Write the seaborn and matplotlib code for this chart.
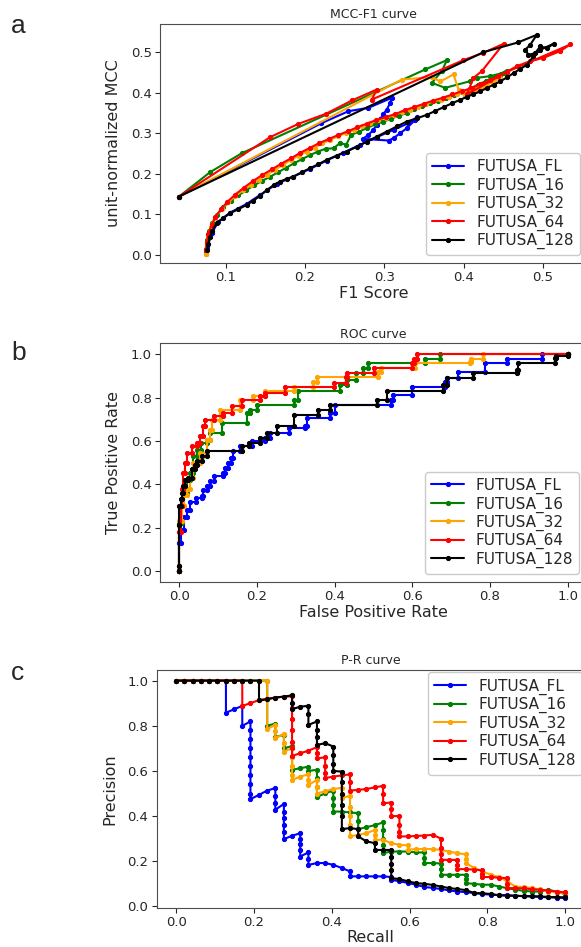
import matplotlib
matplotlib.use("Agg")
import matplotlib.pyplot as plt
import seaborn as sns

# Series names and colours
names = ["FUTUSA_FL", "FUTUSA_16", "FUTUSA_32", "FUTUSA_64", "FUTUSA_128"]
colors = ["blue", "green", "orange", "red", "black"]

# MCC-F1 curves (F1 score, unit-normalized MCC)
mcc_fl_x = [0.041, 0.2207, 0.2548, 0.2800, 0.3095, 0.3074, 0.3032, 0.2989, 0.2947, 0.2905, 0.2863, 0.2800, 0.2729,
            0.3053, 0.3116, 0.3200, 0.3284, 0.3389, 0.3410, 0.3305, 0.3116, 0.2905, 0.2695, 0.2485, 0.2274, 0.2064,
            0.1854, 0.1644, 0.1433, 0.1265, 0.1055, 0.0907, 0.0823, 0.0769, 0.0752]
mcc_fl_y = [0.144, 0.3251, 0.3547, 0.3630, 0.3877, 0.3753, 0.3588, 0.3481, 0.3342, 0.3218, 0.3086, 0.2963, 0.2864,
            0.2823, 0.2881, 0.3004, 0.3128, 0.3333, 0.3399, 0.3251, 0.3086, 0.2905, 0.2716, 0.2527, 0.2329, 0.2123,
            0.1934, 0.1753, 0.1481, 0.1259, 0.1045, 0.0823, 0.0535, 0.0206, 0.0082]

mcc_16_x = [0.041, 0.0802, 0.1202, 0.3515, 0.3789, 0.3726, 0.3599, 0.3768, 0.4083, 0.4167, 0.4335, 0.4504, 0.4546,
            0.447, 0.438, 0.428, 0.418, 0.408, 0.398, 0.388, 0.378, 0.368, 0.358, 0.348, 0.338, 0.328, 0.318, 0.308,
            0.298, 0.288, 0.278, 0.268, 0.258, 0.252, 0.244, 0.236, 0.226, 0.216, 0.206, 0.196, 0.186, 0.176, 0.166,
            0.156, 0.146, 0.136, 0.126, 0.116, 0.106, 0.097, 0.089, 0.083, 0.079, 0.076, 0.075, 0.075]
mcc_16_y = [0.144, 0.2041, 0.2510, 0.4576, 0.4807, 0.4535, 0.4247, 0.4123, 0.4288, 0.4370, 0.4412, 0.4494, 0.4551,
            0.447, 0.438, 0.429, 0.420, 0.410, 0.401, 0.394, 0.388, 0.381, 0.374, 0.367, 0.360, 0.350, 0.343, 0.336,
            0.328, 0.322, 0.313, 0.304, 0.296, 0.272, 0.276, 0.263, 0.262, 0.255, 0.246, 0.236, 0.226, 0.215, 0.204,
            0.193, 0.183, 0.172, 0.160, 0.147, 0.134, 0.117, 0.099, 0.079, 0.058, 0.036, 0.015, 0.002]

mcc_32_x = [0.041, 0.3221, 0.3599, 0.3705, 0.3873, 0.3936, 0.4020, 0.415, 0.425, 0.436, 0.446, 0.438, 0.430, 0.421,
            0.412, 0.402, 0.392, 0.382, 0.372, 0.362, 0.352, 0.342, 0.332, 0.322, 0.312, 0.302, 0.292, 0.282, 0.272,
            0.262, 0.252, 0.242, 0.232, 0.222, 0.212, 0.202, 0.192, 0.182, 0.172, 0.162, 0.152, 0.142, 0.132, 0.122,
            0.112, 0.103, 0.095, 0.086, 0.081, 0.078, 0.076, 0.075, 0.075]
mcc_32_y = [0.144, 0.4329, 0.4387, 0.4280, 0.4453, 0.4082, 0.3918, 0.404, 0.414, 0.427, 0.436, 0.430, 0.424, 0.417,
            0.410, 0.402, 0.396, 0.390, 0.383, 0.379, 0.372, 0.366, 0.358, 0.352, 0.345, 0.338, 0.332, 0.325, 0.317,
            0.309, 0.301, 0.293, 0.284, 0.275, 0.265, 0.255, 0.245, 0.234, 0.222, 0.210, 0.198, 0.186, 0.173, 0.160,
            0.145, 0.130, 0.114, 0.092, 0.070, 0.050, 0.030, 0.012, 0.003]

mcc_64_x = [0.041, 0.1559, 0.1917, 0.2262, 0.2590, 0.2905, 0.2842, 0.3999, 0.4251, 0.4504, 0.4230, 0.4125, 0.4041,
            0.4672, 0.4840, 0.5008, 0.5219, 0.5345, 0.455, 0.444, 0.433, 0.421, 0.410, 0.398, 0.386, 0.374, 0.362,
            0.350, 0.338, 0.326, 0.314, 0.302, 0.290, 0.278, 0.266, 0.254, 0.242, 0.230, 0.218, 0.206, 0.194, 0.182,
            0.170, 0.158, 0.146, 0.134, 0.123, 0.112, 0.102, 0.094, 0.087, 0.082, 0.078, 0.076, 0.075]
mcc_64_y = [0.144, 0.2905, 0.3235, 0.3481, 0.3811, 0.4082, 0.3835, 0.4807, 0.4988, 0.5210, 0.4535, 0.4370, 0.3959,
            0.4658, 0.4782, 0.4864, 0.5029, 0.5193, 0.452, 0.442, 0.431, 0.421, 0.412, 0.404, 0.396, 0.388, 0.381,
            0.373, 0.365, 0.357, 0.348, 0.340, 0.333, 0.324, 0.315, 0.305, 0.296, 0.286, 0.276, 0.264, 0.252, 0.238,
            0.225, 0.211, 0.197, 0.182, 0.166, 0.149, 0.131, 0.113, 0.094, 0.073, 0.052, 0.031, 0.012]

mcc_128_x = [0.041, 0.4251, 0.4685, 0.4924, 0.4840, 0.4777, 0.4819, 0.4903, 0.4966, 0.5050, 0.5135, 0.4966, 0.4882,
             0.4798, 0.4714, 0.4630, 0.4546, 0.4462, 0.4378, 0.4294, 0.4209, 0.4125, 0.4041, 0.3957, 0.3852, 0.3747,
             0.3641, 0.3536, 0.3410, 0.3284, 0.3158, 0.3032, 0.2906, 0.2779, 0.2653, 0.2527, 0.2401, 0.2274, 0.2169,
             0.2064, 0.1959, 0.1854, 0.1770, 0.1686, 0.1602, 0.1517, 0.1433, 0.1349, 0.1265, 0.1160, 0.1055, 0.0970,
             0.0886, 0.0830, 0.0802, 0.0780, 0.0760]
mcc_128_y = [0.144, 0.5004, 0.5243, 0.5432, 0.5185, 0.5062, 0.4938, 0.4979, 0.5144, 0.5103, 0.5210, 0.5060, 0.4897,
             0.4691, 0.4590, 0.4486, 0.4380, 0.4280, 0.4200, 0.4120, 0.4033, 0.3970, 0.3900, 0.3827, 0.3740, 0.3646,
             0.3550, 0.3457, 0.3370, 0.3292, 0.3170, 0.3045, 0.2920, 0.2798, 0.2670, 0.2551, 0.2450, 0.2346, 0.2240,
             0.2140, 0.2040, 0.1934, 0.1880, 0.1811, 0.1720, 0.1600, 0.1457, 0.1340, 0.1235, 0.1130, 0.1029, 0.0910,
             0.0782, 0.0600, 0.0453, 0.0280, 0.0123]

# ROC curves: (FPR, TPR reached at that FPR)
roc_fl = [(0.0, 0.13), (0.003, 0.19), (0.012, 0.25), (0.019, 0.28), (0.027, 0.32), (0.043, 0.335), (0.057, 0.345),
          (0.062, 0.375), (0.072, 0.39), (0.079, 0.415), (0.088, 0.437), (0.113, 0.452), (0.118, 0.475),
          (0.126, 0.498), (0.132, 0.521), (0.137, 0.552), (0.156, 0.575), (0.186, 0.598), (0.22, 0.613),
          (0.233, 0.636), (0.281, 0.66), (0.324, 0.667), (0.328, 0.706), (0.388, 0.729), (0.401, 0.767),
          (0.545, 0.79), (0.551, 0.813), (0.598, 0.851), (0.685, 0.874), (0.69, 0.89), (0.718, 0.92),
          (0.787, 0.958), (0.843, 0.98), (0.933, 1.0), (1.0, 1.0)]
roc_16 = [(0.0, 0.22), (0.006, 0.30), (0.012, 0.36), (0.019, 0.42), (0.027, 0.45), (0.036, 0.53), (0.045, 0.56),
          (0.055, 0.59), (0.07, 0.606), (0.079, 0.636), (0.109, 0.683), (0.173, 0.729), (0.182, 0.744),
          (0.199, 0.767), (0.294, 0.79), (0.306, 0.828), (0.414, 0.859), (0.431, 0.882), (0.456, 0.913),
          (0.474, 0.936), (0.487, 0.958), (0.633, 0.977), (0.671, 1.0), (1.0, 1.0)]
roc_32 = [(0.0, 0.23), (0.006, 0.30), (0.012, 0.35), (0.019, 0.376), (0.027, 0.43), (0.036, 0.498), (0.053, 0.544),
          (0.07, 0.606), (0.079, 0.652), (0.083, 0.698), (0.105, 0.744), (0.156, 0.79), (0.19, 0.805),
          (0.221, 0.828), (0.294, 0.851), (0.345, 0.874), (0.354, 0.897), (0.512, 0.92), (0.52, 0.936),
          (0.607, 0.958), (0.749, 0.966), (0.752, 0.98), (0.783, 1.0), (1.0, 1.0)]
roc_64 = [(0.0, 0.18), (0.003, 0.30), (0.006, 0.38), (0.01, 0.452), (0.015, 0.50), (0.019, 0.544), (0.032, 0.575),
          (0.045, 0.59), (0.053, 0.621), (0.062, 0.667), (0.066, 0.698), (0.09, 0.713), (0.113, 0.729),
          (0.135, 0.759), (0.161, 0.79), (0.208, 0.805), (0.22, 0.82), (0.272, 0.851), (0.397, 0.866),
          (0.428, 0.897), (0.431, 0.912), (0.5, 0.935), (0.598, 0.958), (0.605, 0.977), (0.611, 1.0), (1.0, 1.0)]
roc_128 = [(0.0, 0.023), (0.0, 0.21), (0.0, 0.30), (0.003, 0.33), (0.006, 0.36), (0.01, 0.39), (0.015, 0.42),
           (0.022, 0.43), (0.032, 0.468), (0.04, 0.49), (0.045, 0.506), (0.058, 0.529), (0.07, 0.552), (0.16, 0.575),
           (0.178, 0.59), (0.208, 0.613), (0.225, 0.636), (0.251, 0.667), (0.294, 0.721), (0.358, 0.744),
           (0.388, 0.767), (0.508, 0.79), (0.534, 0.828), (0.68, 0.859), (0.688, 0.89), (0.757, 0.913),
           (0.869, 0.928), (0.873, 0.958), (0.967, 0.982), (0.97, 0.99), (1.0, 1.0)]

# P-R curves: (recall, precision)
pr_fl = [(0.0, 1.0), (0.021, 1.0), (0.043, 1.0), (0.064, 1.0), (0.085, 1.0), (0.106, 1.0), (0.128, 1.0),
         (0.128, 0.858), (0.149, 0.873), (0.170, 0.888), (0.170, 0.800), (0.191, 0.819), (0.191, 0.780),
         (0.191, 0.740), (0.191, 0.700), (0.191, 0.660), (0.191, 0.620), (0.191, 0.580), (0.191, 0.540),
         (0.191, 0.500), (0.191, 0.475), (0.213, 0.494), (0.234, 0.513), (0.255, 0.524), (0.255, 0.490),
         (0.255, 0.460), (0.255, 0.428), (0.277, 0.454), (0.277, 0.420), (0.277, 0.390), (0.277, 0.360),
         (0.277, 0.330), (0.277, 0.298), (0.298, 0.313), (0.319, 0.324), (0.319, 0.300), (0.319, 0.275),
         (0.319, 0.250), (0.319, 0.221), (0.340, 0.239), (0.340, 0.210), (0.340, 0.184), (0.362, 0.192),
         (0.383, 0.192), (0.404, 0.184), (0.426, 0.170), (0.447, 0.155), (0.447, 0.133), (0.468, 0.133),
         (0.489, 0.133), (0.511, 0.133), (0.532, 0.133), (0.553, 0.130), (0.553, 0.118), (0.574, 0.111),
         (0.596, 0.104), (0.617, 0.096), (0.638, 0.086), (0.660, 0.082), (0.681, 0.077), (0.702, 0.071),
         (0.723, 0.066), (0.745, 0.063), (0.766, 0.059), (0.787, 0.055), (0.809, 0.052), (0.830, 0.050),
         (0.851, 0.049), (0.872, 0.047), (0.894, 0.045), (0.915, 0.044), (0.936, 0.042), (0.957, 0.040),
         (0.979, 0.039), (1.0, 0.037)]
pr_16 = [(0.0, 1.0), (0.021, 1.0), (0.043, 1.0), (0.064, 1.0), (0.085, 1.0), (0.106, 1.0), (0.128, 1.0),
         (0.149, 1.0), (0.170, 1.0), (0.191, 1.0), (0.213, 1.0), (0.234, 1.0), (0.234, 0.800), (0.255, 0.810),
         (0.255, 0.750), (0.277, 0.760), (0.277, 0.700), (0.298, 0.710), (0.298, 0.660), (0.298, 0.605),
         (0.319, 0.612), (0.340, 0.619), (0.340, 0.600), (0.362, 0.605), (0.362, 0.570), (0.362, 0.530),
         (0.362, 0.484), (0.383, 0.501), (0.404, 0.513), (0.404, 0.480), (0.404, 0.450), (0.404, 0.420),
         (0.426, 0.420), (0.447, 0.416), (0.468, 0.413), (0.468, 0.380), (0.468, 0.342), (0.489, 0.351),
         (0.511, 0.360), (0.532, 0.372), (0.532, 0.340), (0.532, 0.300), (0.532, 0.270), (0.532, 0.236),
         (0.553, 0.243), (0.574, 0.243), (0.596, 0.243), (0.617, 0.239), (0.638, 0.239), (0.638, 0.215),
         (0.638, 0.192), (0.660, 0.192), (0.681, 0.190), (0.681, 0.165), (0.681, 0.140), (0.702, 0.140),
         (0.723, 0.140), (0.745, 0.140), (0.745, 0.120), (0.745, 0.103), (0.766, 0.100), (0.787, 0.096),
         (0.809, 0.096), (0.830, 0.088), (0.851, 0.081), (0.872, 0.074), (0.894, 0.069), (0.915, 0.066),
         (0.936, 0.066), (0.957, 0.074), (0.979, 0.064), (1.0, 0.055)]
pr_32 = [(0.0, 1.0), (0.021, 1.0), (0.043, 1.0), (0.064, 1.0), (0.085, 1.0), (0.106, 1.0), (0.128, 1.0),
         (0.149, 1.0), (0.170, 1.0), (0.191, 1.0), (0.213, 1.0), (0.234, 1.0), (0.234, 0.785), (0.255, 0.804),
         (0.255, 0.775), (0.255, 0.745), (0.277, 0.764), (0.277, 0.725), (0.277, 0.686), (0.298, 0.700),
         (0.298, 0.660), (0.298, 0.620), (0.298, 0.580), (0.298, 0.560), (0.319, 0.575), (0.340, 0.585),
         (0.340, 0.560), (0.340, 0.538), (0.362, 0.560), (0.362, 0.530), (0.362, 0.500), (0.383, 0.510),
         (0.404, 0.520), (0.426, 0.525), (0.426, 0.480), (0.447, 0.490), (0.447, 0.440), (0.447, 0.400),
         (0.447, 0.360), (0.447, 0.310), (0.468, 0.317), (0.489, 0.324), (0.511, 0.339), (0.511, 0.317),
         (0.511, 0.295), (0.532, 0.295), (0.553, 0.280), (0.574, 0.273), (0.596, 0.270), (0.596, 0.251),
         (0.617, 0.254), (0.638, 0.254), (0.660, 0.254), (0.681, 0.250), (0.702, 0.243), (0.723, 0.236),
         (0.745, 0.230), (0.745, 0.210), (0.745, 0.192), (0.766, 0.170), (0.787, 0.155), (0.809, 0.140),
         (0.830, 0.130), (0.851, 0.111), (0.872, 0.088), (0.894, 0.086), (0.915, 0.081), (0.936, 0.075),
         (0.957, 0.066), (0.979, 0.062), (1.0, 0.059)]
pr_64 = [(0.0, 1.0), (0.021, 1.0), (0.043, 1.0), (0.064, 1.0), (0.085, 1.0), (0.106, 1.0), (0.128, 1.0),
         (0.149, 1.0), (0.170, 1.0), (0.170, 0.888), (0.191, 0.900), (0.213, 0.914), (0.234, 0.920),
         (0.255, 0.925), (0.277, 0.929), (0.298, 0.930), (0.298, 0.880), (0.298, 0.830), (0.298, 0.780),
         (0.298, 0.730), (0.298, 0.700), (0.298, 0.667), (0.319, 0.678), (0.340, 0.690), (0.362, 0.705),
         (0.362, 0.680), (0.362, 0.656), (0.383, 0.660), (0.383, 0.620), (0.383, 0.590), (0.383, 0.568),
         (0.404, 0.575), (0.426, 0.580), (0.447, 0.585), (0.447, 0.550), (0.447, 0.513), (0.468, 0.516),
         (0.489, 0.520), (0.511, 0.527), (0.532, 0.534), (0.532, 0.500), (0.532, 0.457), (0.553, 0.460),
         (0.553, 0.430), (0.553, 0.400), (0.574, 0.400), (0.574, 0.360), (0.574, 0.330), (0.574, 0.310),
         (0.596, 0.310), (0.617, 0.312), (0.638, 0.314), (0.660, 0.317), (0.681, 0.300), (0.681, 0.260),
         (0.681, 0.230), (0.681, 0.206), (0.702, 0.206), (0.723, 0.206), (0.723, 0.185), (0.723, 0.165),
         (0.745, 0.165), (0.766, 0.163), (0.787, 0.160), (0.787, 0.145), (0.787, 0.130), (0.809, 0.130),
         (0.830, 0.127), (0.851, 0.125), (0.851, 0.100), (0.851, 0.081), (0.872, 0.081), (0.894, 0.080),
         (0.915, 0.076), (0.936, 0.074), (0.957, 0.070), (0.979, 0.066), (1.0, 0.062)]
pr_128 = [(0.0, 1.0), (0.021, 1.0), (0.043, 1.0), (0.064, 1.0), (0.085, 1.0), (0.106, 1.0), (0.128, 1.0),
          (0.149, 1.0), (0.170, 1.0), (0.191, 1.0), (0.213, 1.0), (0.213, 0.912), (0.234, 0.917), (0.255, 0.925),
          (0.277, 0.929), (0.298, 0.935), (0.298, 0.900), (0.298, 0.873), (0.319, 0.885), (0.340, 0.888),
          (0.340, 0.850), (0.340, 0.804), (0.362, 0.819), (0.362, 0.780), (0.362, 0.750), (0.362, 0.715),
          (0.383, 0.723), (0.404, 0.708), (0.404, 0.670), (0.404, 0.630), (0.404, 0.600), (0.426, 0.597),
          (0.426, 0.550), (0.426, 0.500), (0.426, 0.450), (0.426, 0.400), (0.426, 0.342), (0.447, 0.347),
          (0.468, 0.342), (0.468, 0.310), (0.489, 0.288), (0.511, 0.280), (0.511, 0.250), (0.532, 0.250),
          (0.553, 0.250), (0.553, 0.220), (0.553, 0.190), (0.553, 0.160), (0.553, 0.125), (0.574, 0.121),
          (0.596, 0.111), (0.617, 0.103), (0.638, 0.100), (0.660, 0.095), (0.681, 0.088), (0.702, 0.081),
          (0.723, 0.077), (0.745, 0.072), (0.766, 0.059), (0.787, 0.058), (0.809, 0.055), (0.830, 0.049),
          (0.851, 0.048), (0.872, 0.047), (0.894, 0.046), (0.915, 0.045), (0.936, 0.044), (0.957, 0.042),
          (0.979, 0.041), (1.0, 0.040)]

mcc_curves = [(mcc_fl_x, mcc_fl_y), (mcc_16_x, mcc_16_y), (mcc_32_x, mcc_32_y),
              (mcc_64_x, mcc_64_y), (mcc_128_x, mcc_128_y)]
roc_curves = [roc_fl, roc_16, roc_32, roc_64, roc_128]
pr_curves = [pr_fl, pr_16, pr_32, pr_64, pr_128]


def roc_corners(steps):
    # turn (fpr, tpr) steps into the corner points of the ROC staircase
    xs, ys = [0.0], [0.0]
    prev = 0.0
    for f, t in steps:
        xs += [f, f]
        ys += [prev, t]
        prev = t
    return xs, ys


def draw(ax, xs, ys, color, name):
    sns.lineplot(x=xs, y=ys, sort=False, estimator=None, color=color, marker=".",
                 markersize=6, markeredgecolor=color, linewidth=1.5, label=name, ax=ax)


def add_legend(ax, loc, pad=0.5):
    ax.legend(loc=loc, fontsize=11, labelspacing=0.15, handlelength=2.1,
              borderaxespad=pad, edgecolor="0.75")


sns.set_style("ticks", {"axes.edgecolor": "0.3", "xtick.color": "0.15", "ytick.color": "0.15"})
plt.rcParams["font.family"] = ["DejaVu Sans"]

fig = plt.figure(figsize=(5.81, 9.47), dpi=100)
ax_a = fig.add_axes([0.2754, 0.7223, 0.736, 0.2524])
ax_b = fig.add_axes([0.2754, 0.3857, 0.735, 0.2517])
ax_c = fig.add_axes([0.2697, 0.0412, 0.7365, 0.2513])

# a: MCC-F1
for (xs, ys), c, n in zip(mcc_curves, colors, names):
    draw(ax_a, xs, ys, c, n)
ax_a.set_xlim(0.017, 0.5565)
ax_a.set_ylim(-0.02, 0.57)
ax_a.set_xticks([0.1, 0.2, 0.3, 0.4, 0.5])
ax_a.set_yticks([0.0, 0.1, 0.2, 0.3, 0.4, 0.5])
ax_a.set_title("MCC-F1 curve", fontsize=9, pad=4)
ax_a.set_xlabel("F1 Score", fontsize=11.5, labelpad=1.5)
ax_a.set_ylabel("unit-normalized MCC", fontsize=11.5, labelpad=7)
add_legend(ax_a, "lower right")

# b: ROC
for steps, c, n in zip(roc_curves, colors, names):
    xs, ys = roc_corners(steps)
    draw(ax_b, xs, ys, c, n)
ax_b.set_xlim(-0.05, 1.05)
ax_b.set_ylim(-0.05, 1.05)
ax_b.set_xticks([0.0, 0.2, 0.4, 0.6, 0.8, 1.0])
ax_b.set_yticks([0.0, 0.2, 0.4, 0.6, 0.8, 1.0])
ax_b.set_title("ROC curve", fontsize=9, pad=4)
ax_b.set_xlabel("False Positive Rate", fontsize=11.5, labelpad=1.5)
ax_b.set_ylabel("True Positive Rate", fontsize=11.5, labelpad=7)
add_legend(ax_b, "lower right")

# c: P-R
for pts, c, n in zip(pr_curves, colors, names):
    draw(ax_c, [p[0] for p in pts], [p[1] for p in pts], c, n)
ax_c.set_xlim(-0.05, 1.05)
ax_c.set_ylim(-0.007, 1.047)
ax_c.set_xticks([0.0, 0.2, 0.4, 0.6, 0.8, 1.0])
ax_c.set_yticks([0.0, 0.2, 0.4, 0.6, 0.8, 1.0])
ax_c.set_title("P-R curve", fontsize=9, pad=4)
ax_c.set_xlabel("Recall", fontsize=11.5, labelpad=0.5)
ax_c.set_ylabel("Precision", fontsize=11.5, labelpad=7)
add_legend(ax_c, "upper right", pad=0.15)

for ax in (ax_a, ax_b, ax_c):
    ax.tick_params(labelsize=9.5, pad=2.5)

# panel letters
for letter, ypx in (("a", 33), ("b", 360), ("c", 680)):
    fig.text(11 / 581, 1 - ypx / 947, letter, fontsize=19, family="Liberation Sans", va="baseline")

fig.savefig("out.png", dpi=100)
